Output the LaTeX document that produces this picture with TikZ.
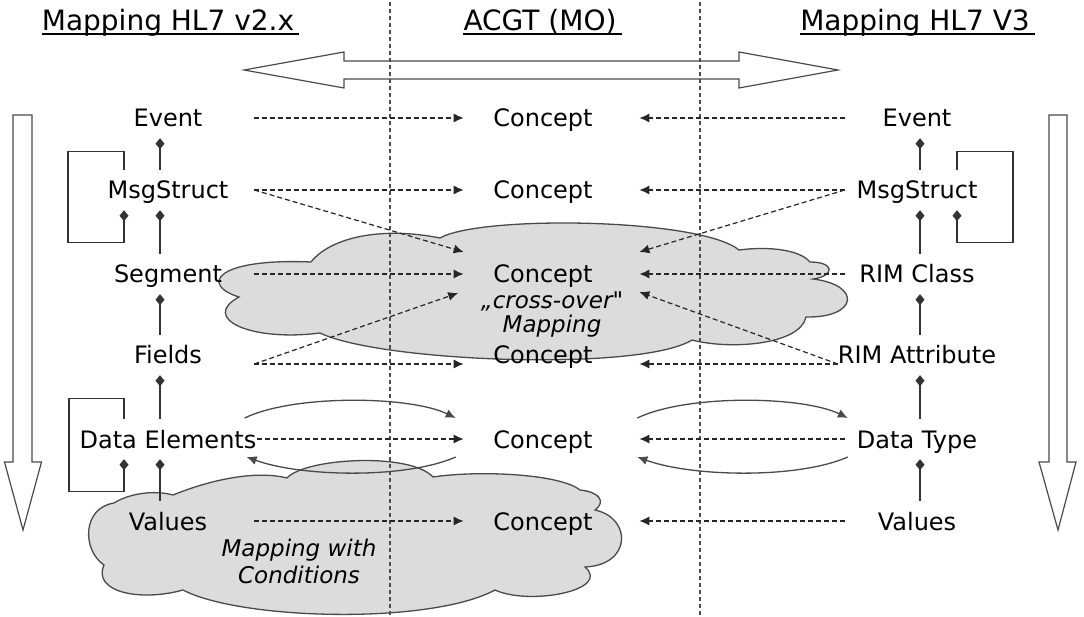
\documentclass[tikz,border=0pt]{standalone}
\usepackage{fontspec}
\setmainfont{DejaVu Sans}
\usetikzlibrary{arrows.meta}
\definecolor{cloudgray}{HTML}{DCDCDC}
\definecolor{edgegray}{HTML}{4A4A4A}

\begin{document}
\begin{tikzpicture}
  [
    x=1pt, y=-1pt,
    item/.style={font=\fontsize{24}{28}\selectfont, inner xsep=0pt, inner ysep=6pt,
      text height=23pt, text depth=5pt, anchor=base},
    lcol/.style={item, minimum width=172pt},
    rcol/.style={item, minimum width=144pt},
    heading/.style={font=\fontsize{28}{32}\selectfont, inner sep=0pt, anchor=base},
    note/.style={font=\fontsize{23}{27}\selectfont\itshape, inner sep=0pt, anchor=base},
    maparrow/.style={-{Latex[length=10pt,width=9pt]}, dash pattern=on 5pt off 3pt,
      line width=1.2pt, black!85},
    backforth/.style={-{Latex[length=10pt,width=9pt]}, line width=1.3pt, edgegray},
    partof/.style={-{Diamond[length=11pt,width=9pt]}, line width=1.3pt, black!80},
    lane/.style={dash pattern=on 4pt off 3pt, line width=1.2pt, black!70},
    bigarrow/.style={draw=edgegray, fill=white, line width=1.2pt},
    cloudy/.style={draw=edgegray, fill=cloudgray, line width=1.3pt}
  ]
  \useasboundingbox (0,0) rectangle (1084,617);

  % clouds
  \draw[cloudy] (311,262) .. controls (330,238) and (380,226) .. (440,238)
    .. controls (480,215) and (700,218) .. (739,250)
    .. controls (770,246) and (800,250) .. (810,262)
    .. controls (835,262) and (835,276) .. (813,279)
    .. controls (862,285) and (858,318) .. (806,317)
    .. controls (800,345) and (730,350) .. (692,340)
    .. controls (640,372) and (380,362) .. (320,333)
    .. controls (250,342) and (200,318) .. (239,297)
    .. controls (200,285) and (215,258) .. cycle;
  \draw[cloudy] (173,495) .. controls (210,480) and (255,470) .. (287,478)
    .. controls (305,458) and (410,452) .. (433,477)
    .. controls (480,470) and (560,474) .. (580,490)
    .. controls (600,492) and (606,502) .. (595,510)
    .. controls (632,518) and (632,565) .. (585,567)
    .. controls (612,590) and (530,606) .. (495,590)
    .. controls (430,625) and (240,620) .. (183,590)
    .. controls (140,602) and (92,592) .. (104,565)
    .. controls (82,550) and (82,508) .. (114,503)
    .. controls (130,493) and (155,490) .. cycle;

  % big arrows
  \draw[bigarrow] (244,70) -- (344,52) -- (344,61) -- (739,61) -- (739,52) -- (838,70)
    -- (739,88) -- (739,79) -- (344,79) -- (344,88) -- cycle;
  \draw[bigarrow] (13,115) -- (32,115) -- (32,462) -- (41.5,462) -- (23,530)
    -- (4.5,462) -- (13,462) -- cycle;
  \draw[bigarrow] (1049,115) -- (1067,115) -- (1067,462) -- (1076,462) -- (1058,530)
    -- (1039,462) -- (1049,462) -- cycle;

  % lanes
  \foreach \x in {390,700} {
    \draw[lane] (\x,2) -- (\x,617);
  }

  % headings
  \node[heading] (tLeft) at (168,31) {Mapping HL7 v2.x};
  \node[heading] (tMid) at (540,31) {ACGT (MO)};
  \node[heading] (tRight) at (915,31) {Mapping HL7 V3};
  \foreach \t in {tLeft,tMid,tRight} {
    \draw[line width=1.4pt] ([yshift=-3pt]\t.base west) -- ([xshift=5pt,yshift=-3pt]\t.base east);
  }

  % HL7 v2.x
  \node[lcol] (evL) at (168,127) {Event};
  \node[lcol] (msgL) at (168,199) {MsgStruct};
  \node[lcol] (segL) at (168,283) {Segment};
  \node[lcol] (fldL) at (168,364) {Fields};
  \node[lcol] (dataL) at (168,448) {Data Elements};
  \node[lcol] (valL) at (168,530) {Values};
  % HL7 V3
  \node[rcol] (evR) at (917,127) {Event};
  \node[rcol] (msgR) at (917,199) {MsgStruct};
  \node[rcol] (rimR) at (917,283) {RIM Class};
  \node[rcol] (attR) at (917,364) {RIM Attribute};
  \node[rcol] (dtR) at (917,448) {Data Type};
  \node[rcol] (valR) at (917,530) {Values};
  % MO
  \foreach \n/\y in {cA/127,cB/199,cC/283,cD/364,cE/448,cF/530} {
    \node[item] (\n) at (543,\y) {Concept};
  }
  \node[note] (xover) at (552,309) {„cross-over\textquotedbl};
  \node[note] (xoverB) at (552,333) {Mapping};
  \node[note] (condA) at (299,556) {Mapping with};
  \node[note] (condB) at (299,583) {Conditions};

  % composition
  \coordinate (spineL) at (160,0);
  \coordinate (loopL) at (124,0);
  \coordinate (spineR) at (920,0);
  \coordinate (loopR) at (957,0);
  \foreach \a/\b in {msgL/evL,segL/msgL,fldL/segL,dataL/fldL,valL/dataL} {
    \draw[partof] (\a.north -| spineL) -- (\b.south -| spineL);
  }
  \foreach \a/\b in {msgR/evR,rimR/msgR,attR/rimR,dtR/attR,valR/dtR} {
    \draw[partof] (\a.north -| spineR) -- (\b.south -| spineR);
  }
  \draw[partof] (msgL.north -| loopL) -- ++(0,-18) -- ++(-56,0) -- ++(0,91) -- ++(56,0)
    -- (msgL.south -| loopL);
  \draw[partof] (dataL.north -| loopL) -- ++(0,-20) -- ++(-55,0) -- ++(0,93) -- ++(55,0)
    -- (dataL.south -| loopL);
  \draw[partof] (msgR.north -| loopR) -- ++(0,-18) -- ++(56,0) -- ++(0,91) -- ++(-56,0)
    -- (msgR.south -| loopR);

  % mappings
  \foreach \a/\b in {evL/cA,msgL/cB,segL/cC,dataL/cE,valL/cF} {
    \draw[maparrow] (\a.east) -- ([xshift=-29.5pt]\b.west);
  }
  \foreach \a/\b in {evR/cA,msgR/cB,rimR/cC,dtR/cE,valR/cF} {
    \draw[maparrow] (\a.west) -- ([xshift=46.5pt]\b.east);
  }
  \draw[maparrow] ([yshift=-9pt]fldL.east) -- ([xshift=-29.5pt,yshift=-9pt]cD.west);
  \draw[maparrow] ([yshift=-9pt]attR.west) -- ([xshift=46.5pt,yshift=-9pt]cD.east);
  % cross-over
  \draw[maparrow] (msgL.east) -- ([xshift=-29.5pt,yshift=22pt]cC.west);
  \draw[maparrow] ([yshift=-9pt]fldL.east) -- ([xshift=-35pt,yshift=-19pt]cC.west);
  \draw[maparrow] (msgR.west) -- ([xshift=46.5pt,yshift=22pt]cC.east);
  \draw[maparrow] ([yshift=-9pt]attR.west) -- ([xshift=46.5pt,yshift=-18pt]cC.east);
  % data elements and data types
  \draw[backforth] ([xshift=-12pt,yshift=21pt]dataL.east) .. controls +(50,-24) and +(-45,-22) .. ([xshift=-37.5pt,yshift=21pt]cE.west);
  \draw[backforth] ([xshift=-37.5pt,yshift=-18pt]cE.west) .. controls +(-50,22) and +(55,20) .. ([xshift=-10pt,yshift=-18pt]dataL.east);
  \draw[backforth] ([xshift=44.5pt,yshift=21pt]cE.east) .. controls +(50,-24) and +(-45,-22) .. ([xshift=3pt,yshift=21pt]dtR.west);
  \draw[backforth] ([xshift=3pt,yshift=-18pt]dtR.west) .. controls +(-50,22) and +(55,20) .. ([xshift=44.5pt,yshift=-18pt]cE.east);
\end{tikzpicture}
\end{document}
